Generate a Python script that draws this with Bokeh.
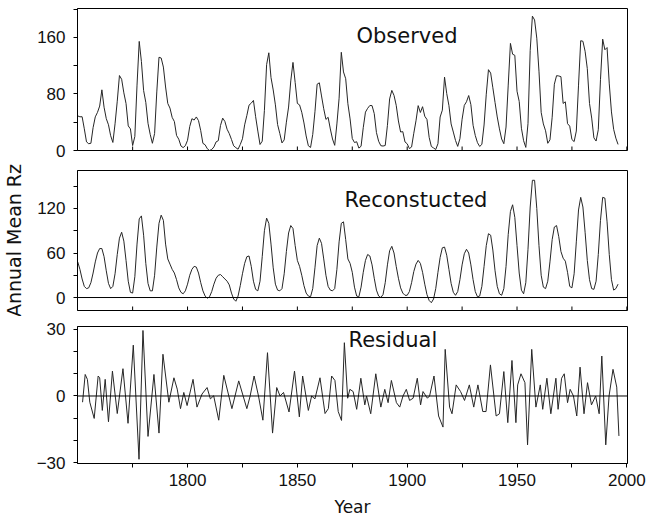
from bokeh.plotting import figure
from bokeh.layouts import column
from bokeh.models import Range1d, FixedTicker, Span, Label
from bokeh.embed import file_html
from bokeh.resources import INLINE

# ---------------- data ----------------
years = list(range(1750, 1997))

observed = [
    49.0, 47.7, 47.8, 30.7, 12.2, 9.6, 10.2, 32.4, 47.6, 54.0,          # 1750
    62.9, 85.9, 61.2, 45.1, 36.4, 20.9, 11.4, 37.8, 69.8, 106.1,        # 1760
    100.8, 81.6, 66.5, 34.8, 30.6, 7.0, 19.8, 92.5, 154.4, 125.9,       # 1770
    84.8, 68.1, 38.5, 22.8, 10.2, 24.1, 82.9, 132.0, 130.9, 118.1,      # 1780
    89.9, 66.6, 60.0, 46.9, 41.0, 21.3, 16.0, 6.4, 4.1, 6.8,            # 1790
    14.5, 34.0, 45.0, 43.1, 47.5, 42.2, 28.1, 10.1, 8.1, 2.5,           # 1800
    0.0, 1.4, 5.0, 12.2, 13.9, 35.4, 45.8, 41.1, 30.1, 23.9,            # 1810
    15.6, 6.6, 4.0, 1.8, 8.5, 16.6, 36.3, 49.6, 64.2, 67.0,             # 1820
    70.9, 47.8, 27.5, 8.5, 13.2, 56.9, 121.5, 138.3, 103.2, 85.7,       # 1830
    64.6, 36.7, 24.2, 10.7, 15.0, 40.1, 61.5, 98.5, 124.7, 96.3,        # 1840
    66.6, 64.5, 54.1, 39.0, 20.6, 6.7, 4.3, 22.7, 54.8, 93.8,           # 1850
    95.8, 77.2, 59.1, 44.0, 47.0, 30.5, 16.3, 7.3, 37.6, 74.0,          # 1860
    139.0, 111.2, 101.6, 66.2, 44.7, 17.0, 11.3, 12.4, 3.4, 6.0,        # 1870
    32.3, 54.3, 59.7, 63.7, 63.5, 52.2, 25.4, 13.1, 6.8, 6.3,           # 1880
    7.1, 35.6, 73.0, 85.1, 78.0, 64.0, 41.8, 26.2, 26.7, 12.1,          # 1890
    9.5, 2.7, 5.0, 24.4, 42.0, 63.5, 53.8, 62.0, 48.5, 43.9,            # 1900
    18.6, 5.7, 3.6, 1.4, 9.6, 47.4, 57.1, 103.9, 80.6, 63.6,            # 1910
    37.6, 26.1, 14.2, 5.8, 16.7, 44.3, 63.9, 69.0, 77.8, 64.9,          # 1920
    35.7, 21.2, 11.1, 5.7, 8.7, 36.1, 79.7, 114.4, 109.6, 88.8,         # 1930
    67.8, 47.5, 30.6, 16.3, 9.6, 33.2, 92.6, 151.6, 136.3, 134.7,       # 1940
    83.9, 69.4, 31.5, 13.9, 4.4, 38.0, 141.7, 190.2, 184.8, 159.0,      # 1950
    112.3, 53.9, 37.6, 27.9, 10.2, 15.1, 47.0, 93.8, 105.9, 105.5,      # 1960
    104.5, 66.6, 68.9, 38.0, 34.5, 15.5, 12.6, 27.5, 92.5, 155.4,       # 1970
    154.6, 140.4, 115.9, 66.6, 45.9, 17.9, 13.4, 29.4, 100.2, 157.6,    # 1980
    142.6, 145.7, 94.3, 54.6, 29.9, 17.5, 8.6,                          # 1990
]

reconstructed = [
    48, 38, 25, 15, 12, 13, 20, 33, 48, 60,          # 1750
    66, 66, 55, 36, 19, 12, 15, 32, 58, 80,          # 1760
    88, 76, 50, 22, 7, 6, 28, 72, 106, 110,          # 1770
    84, 46, 19, 9, 9, 30, 68, 100, 111, 104,         # 1780
    72, 52, 45, 38, 33, 24, 13, 7, 5, 9,             # 1790
    18, 30, 38, 42, 41, 33, 20, 9, 2, -1,            # 1800
    1, 8, 18, 26, 30, 31, 28, 25, 22, 17,            # 1810
    6, -2, -5, 2, 16, 32, 46, 55, 56, 42,            # 1820
    22, 11, 9, 22, 55, 90, 107, 100, 72, 40,         # 1830
    18, 10, 9, 12, 32, 62, 87, 97, 93, 70,           # 1840
    50, 42, 30, 16, 6, 2, 1, 12, 40, 70,             # 1850
    80, 73, 52, 30, 15, 10, 9, 12, 38, 75,           # 1860
    100, 102, 78, 52, 46, 34, 14, 2, 1, 14,          # 1870
    34, 50, 58, 56, 44, 26, 10, 2, 0, 4,             # 1880
    20, 44, 63, 69, 60, 42, 26, 13, 6, 3,            # 1890
    3, 8, 20, 35, 45, 50, 46, 34, 18, 4,             # 1900
    -4, -7, -2, 12, 34, 54, 67, 68, 57, 38,          # 1910
    19, 7, 3, 8, 24, 44, 59, 65, 60, 44,             # 1920
    24, 8, 1, 2, 15, 42, 70, 86, 84, 64,             # 1930
    36, 15, 5, 3, 12, 42, 85, 116, 125, 108,         # 1940
    70, 33, 10, 5, 20, 65, 122, 158, 158, 120,       # 1950
    70, 30, 14, 12, 22, 48, 78, 95, 97, 82,          # 1960
    62, 53, 49, 34, 15, 13, 32, 75, 118, 135,        # 1970
    122, 88, 50, 24, 12, 11, 22, 58, 104, 135,       # 1980
    134, 102, 58, 24, 10, 12, 18,                    # 1990
]

res_year = [
    1752.2, 1753.4, 1754.4, 1755.5, 1757.5, 1759.3, 1760.0, 1761.2, 1762.5, 1764.0,
    1765.8, 1768.0, 1770.6, 1772.9, 1775.3, 1777.9, 1779.7, 1782.0, 1784.7, 1787.0,
    1788.8, 1791.5, 1793.8, 1795.3, 1796.8, 1798.3, 1799.8, 1802.5, 1804.3, 1806.6,
    1808.9, 1810.4, 1811.9, 1814.2, 1816.5, 1820.2, 1823.3, 1827.0, 1828.5, 1830.3,
    1832.3, 1834.3, 1836.4, 1838.7, 1840.6, 1842.1, 1843.7, 1846.2, 1848.7, 1850.9,
    1852.4, 1855.0, 1856.5, 1858.0, 1860.3, 1862.6, 1864.1, 1865.6, 1867.1, 1868.6,
    1870.1, 1871.4, 1872.9, 1873.9, 1875.4, 1877.0, 1878.9, 1880.7, 1881.5, 1883.4,
    1885.7, 1888.0, 1889.8, 1891.3, 1892.8, 1895.1, 1896.6, 1898.1, 1899.6, 1901.1,
    1902.7, 1904.6, 1906.1, 1907.2, 1909.2, 1910.2, 1912.2, 1914.3, 1916.3, 1917.3,
    1919.3, 1920.4, 1922.3, 1924.3, 1926.1, 1928.3, 1930.3, 1932.2, 1934.4, 1935.9,
    1937.9, 1940.5, 1942.0, 1944.0, 1945.8, 1947.7, 1949.5, 1950.3, 1951.8, 1953.6,
    1954.8, 1956.7, 1958.6, 1960.6, 1961.7, 1963.6, 1965.4, 1967.7, 1968.7, 1970.3,
    1971.5, 1973.0, 1974.2, 1975.7, 1977.2, 1978.7, 1980.5, 1982.1, 1983.9, 1985.8,
    1987.4, 1988.6, 1990.4, 1991.9, 1993.7, 1995.4, 1996.4,
]
res_val = [
    -2.8, 9.7, 7.5, -2.8, -10.1, 9.0, 8.2, -6.5, 7.5, -11.6,
    11.2, -7.9, 12.3, -12.3, 22.9, -28.5, 29.5, -18.2, 9.7, -16.7,
    18.8, -2.8, 8.2, 3.1, -5.7, 1.6, -4.3, 7.5, -5.0, 0.9,
    3.8, -1.3, 0.1, -10.9, 9.3, -5.7, 6.8, -5.7, 0.0, 9.0,
    0.0, -10.9, 19.5, -16.7, 3.8, 0.0, 1.6, -7.2, 11.2, -9.4,
    9.0, -6.5, 0.0, -1.3, 8.2, -7.9, -5.7, 9.0, 7.0, -7.0,
    -11.0, 24.0, -1.0, 3.0, 2.0, -6.0, 8.0, -4.0, 0.0, -8.0,
    10.0, -5.0, 3.0, -3.0, 7.0, -3.0, -5.0, 0.0, 3.0, -2.0,
    -1.0, 8.0, -4.0, 2.0, -1.0, 0.0, 9.0, -9.0, -14.0, 21.0,
    -5.0, -8.0, 5.0, 2.0, -2.0, 5.0, -5.0, 5.0, -7.0, -7.0,
    14.0, -9.0, -8.0, 11.0, -12.0, 16.0, -12.0, 5.0, 10.0, 6.0,
    -22.0, 21.0, -5.0, 5.0, -6.0, 8.0, -8.0, 8.0, -6.0, 8.0,
    10.0, -3.0, 3.0, 0.0, -9.0, 13.0, -8.0, 6.0, -4.0, 0.0,
    -8.0, 18.0, -22.0, 0.0, 12.0, 4.0, -18.0,
]

obs_ticks = [0, 80, 160]
obs_minor = [40, 120, 200]
rec_ticks = [0, 60, 120]
rec_minor = [30, 90, 150]
res_ticks = [-30, 0, 30]
res_minor = [-20, -10, 10, 20]
year_ticks = [1800, 1850, 1900, 1950, 2000]
year_minor = [1775, 1825, 1875, 1925, 1975]

# ---------------- styling helpers ----------------
TICK_FONT = "Liberation Sans"
TITLE_FONT = "DejaVu Sans"
LINE = "#262626"
X0, X1 = 1749.9, 2000.3


def panel(height, yr, ticks, minor, top, bottom, show_x):
    p = figure(width=648, height=height, output_backend="svg", toolbar_location=None,
               x_range=Range1d(X0, X1), y_range=Range1d(*yr),
               min_border_left=75, min_border_right=21,
               min_border_top=top, min_border_bottom=bottom,
               background_fill_color="white", border_fill_color="white")
    p.grid.visible = False
    p.outline_line_color = "black"
    p.outline_line_width = 1
    p.yaxis.ticker = FixedTicker(ticks=ticks, minor_ticks=minor)
    axes = [p.yaxis[0]]
    if show_x:
        p.xaxis.ticker = FixedTicker(ticks=year_ticks, minor_ticks=year_minor)
        axes.append(p.xaxis[0])
        p.xaxis.major_label_standoff = 6
    else:
        p.xaxis.visible = False
        # small inward year ticks along the bottom edge of the frame
        frame_h = height - top - bottom
        tick_len = (yr[1] - yr[0]) * 4.0 / frame_h
        xs = year_ticks + year_minor
        p.segment(x0=xs, y0=[yr[0]] * len(xs), x1=xs, y1=[yr[0] + tick_len] * len(xs),
                  line_color="black", line_width=1)
    for ax in axes:
        ax.axis_line_color = "black"
        ax.major_tick_line_color = "black"
        ax.minor_tick_line_color = "black"
        ax.major_tick_in = 0
        ax.major_tick_out = 4
        ax.minor_tick_in = 0
        ax.minor_tick_out = 4
        ax.major_label_text_font = TICK_FONT
        ax.major_label_text_font_size = "17px"
        ax.major_label_text_color = "#111111"
    p.yaxis.major_label_standoff = 8
    return p


def title(p, text, x, y):
    p.add_layout(Label(x=x, y=y, text=text, text_font=TITLE_FONT,
                       text_font_size="21px", text_color="#111111",
                       text_align="left", text_baseline="middle"))


# Observed
p1 = panel(160, (0, 201), obs_ticks, obs_minor, 8, 10, False)
p1.line(years, observed, line_color=LINE, line_width=1.0)
title(p1, "Observed", 1876.9, 162)

# Reconstructed
p2 = panel(156, (-17.5, 171.2), rec_ticks, rec_minor, 10, 6, False)
p2.add_layout(Span(location=0, dimension="width", line_color="black", line_width=1))
p2.line(years, reconstructed, line_color=LINE, line_width=1.0)
title(p2, "Reconstucted", 1871.5, 132)
p2.yaxis.axis_label = "Annual Mean Rz"
p2.yaxis.axis_label_text_font = TITLE_FONT
p2.yaxis.axis_label_text_font_size = "19px"
p2.yaxis.axis_label_text_font_style = "normal"
p2.yaxis.axis_label_standoff = 9
p2.yaxis.axis_label_text_color = "#111111"

# Residual
p3 = panel(203, (-30.4, 31.3), res_ticks, res_minor, 10, 53, True)
p3.add_layout(Span(location=0, dimension="width", line_color="black", line_width=1))
p3.line(res_year, res_val, line_color=LINE, line_width=1.0)
title(p3, "Residual", 1873.3, 25.1)
p3.xaxis.axis_label = "Year"
p3.xaxis.axis_label_text_font = TITLE_FONT
p3.xaxis.axis_label_text_font_size = "17px"
p3.xaxis.axis_label_text_font_style = "normal"
p3.xaxis.axis_label_standoff = 8
p3.xaxis.axis_label_text_color = "#111111"

layout = column(p1, p2, p3, spacing=0)
open("out.html", "w").write(file_html(layout, INLINE))
